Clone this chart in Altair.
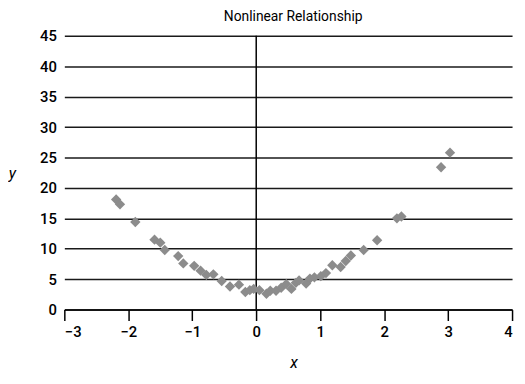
import altair as alt
import pandas as pd

xs = [-2.19, -2.13, -1.89, -1.59, -1.50, -1.43, -1.22, -1.14, -0.97, -0.87,
      -0.78, -0.67, -0.54, -0.41, -0.27, -0.17, -0.10, -0.04, 0.05, 0.16,
      0.22, 0.31, 0.39, 0.47, 0.55, 0.62, 0.67, 0.78, 0.84, 0.91,
      1.01, 1.09, 1.19, 1.32, 1.40, 1.48, 1.68, 1.89, 2.20, 2.27,
      2.89, 3.03]
ys = [18.1, 17.3, 14.4, 11.5, 11.0, 9.8, 8.8, 7.6, 7.2, 6.4,
      5.7, 5.8, 4.7, 3.8, 4.1, 2.9, 3.2, 3.4, 3.2, 2.6,
      3.1, 3.1, 3.6, 4.2, 3.4, 4.4, 4.8, 4.3, 5.1, 5.3,
      5.5, 6.0, 7.3, 7.0, 8.0, 8.9, 9.8, 11.4, 15.0, 15.3,
      23.4, 25.8]
x_ticks = [-3, -2, -1, 0, 1, 2, 3, 4]
y_ticks = [0, 5, 10, 15, 20, 25, 30, 35, 40, 45]

df = pd.DataFrame({"x": xs, "y": ys})

FONT = "Roboto, Liberation Sans, sans-serif"

xscale = alt.Scale(domain=[-3, 4], nice=False, zero=False)
yscale = alt.Scale(domain=[0, 45], nice=False)

points = alt.Chart(df).mark_point(
    shape="diamond", filled=True, size=110, color="#8c8c8c", opacity=1
).encode(
    x=alt.X("x:Q", scale=xscale, axis=alt.Axis(
        values=x_ticks, format="d", grid=False, domainColor="black",
        domainWidth=1.5, tickColor="black", tickSize=11, tickWidth=1.5,
        labelFontSize=15, labelFont=FONT, labelColor="black",
        labelFontWeight=500, labelPadding=4, title="x", titleFont=FONT,
        titleFontSize=16, titleFontStyle="italic", titleFontWeight="normal",
        titlePadding=16, titleColor="black", titleX=232)),
    y=alt.Y("y:Q", scale=yscale, axis=alt.Axis(
        values=y_ticks, grid=True, gridColor="#1a1a1a", gridWidth=1.5,
        domain=False, ticks=False, labelFontSize=15, labelFont=FONT,
        labelColor="black", labelFontWeight=500, labelPadding=8,
        title="y", titleAngle=0, titleFont=FONT, titleFontSize=16,
        titleFontStyle="italic", titleFontWeight="normal", titleColor="black",
        titleX=-53, titleY=139, titleAlign="center", titleBaseline="middle")),
)

vline = alt.Chart(pd.DataFrame({"x0": [0]})).mark_rule(
    color="black", strokeWidth=1.5
).encode(x=alt.X("x0:Q", scale=xscale))

chart = alt.layer(vline, points).properties(
    width=453, height=277,
    autosize=alt.AutoSizeParams(type="none"),
    padding={"left": 57, "top": 26, "right": 5, "bottom": 65},
    title=alt.Title("Nonlinear Relationship", font=FONT, fontSize=14,
                    fontWeight="normal", color="black", offset=5, dx=5),
).configure_view(stroke=None)

chart.save("out.html", embed_options={"renderer": "svg", "actions": False})
